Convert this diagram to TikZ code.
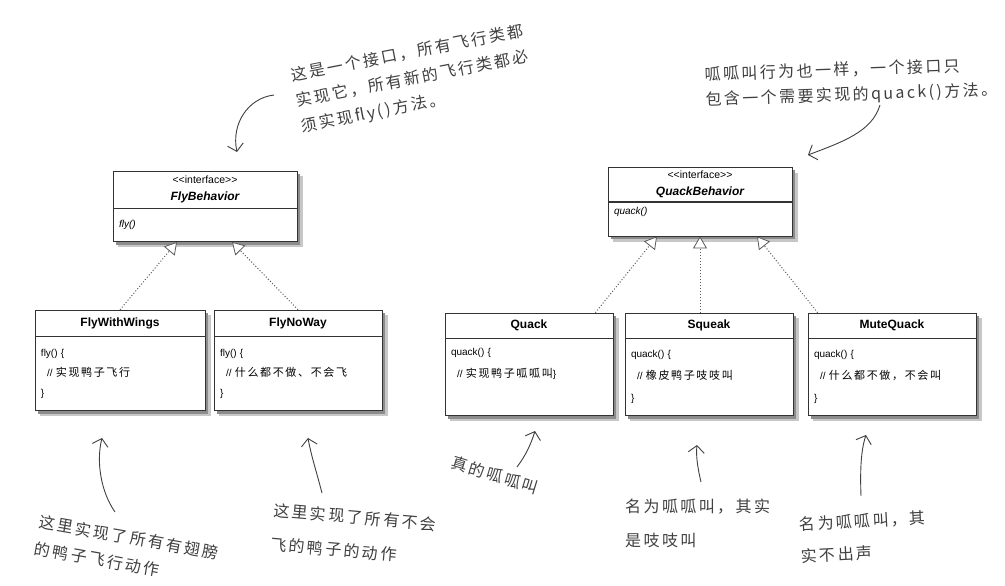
\documentclass[tikz,border=0pt]{standalone}
\usepackage{fontspec}
\usetikzlibrary{arrows.meta,backgrounds,positioning}
\newfontfamily\umlfont{Liberation Sans}
\newfontfamily\cjkbox[LetterSpace=15]{Noto Sans CJK SC}
\newfontfamily\handfont[LetterSpace=15]{Noto Sans CJK SC}
\newcommand\zhtext[1]{{\cjkbox\fontsize{11}{20}\selectfont #1}}

\tikzset{
  classname/.style={draw=black!80, fill=white, line width=0.6pt, inner sep=0pt,
    font=\umlfont\bfseries\fontsize{12}{14}\selectfont},
  iname/.style={classname, align=center, font=\umlfont\fontsize{10.5}{17}\selectfont},
  classbody/.style={draw=black!80, fill=white, line width=0.6pt, inner xsep=6pt, inner ysep=0pt,
    align=left, font=\umlfont\fontsize{10}{#1}\selectfont},
  classbody/.default=20,
  realize/.style={dotted, black!65, line width=1pt,
    -{Triangle[open, length=12pt, width=14pt, fill=white, line width=0.8pt]}},
  note/.style={font=\handfont\fontsize{16}{#1}\selectfont, text=black!75, align=left, inner sep=0pt},
  note/.default=26,
  pointer/.style={black!75, line width=0.9pt, -{Straight Barb[length=7pt, width=16pt]}}
}

\begin{document}
\begin{tikzpicture}[x=1pt, y=-1pt]
\useasboundingbox (0,0) rectangle (1005,586);

% interfaces
\node[iname, minimum width=184pt, minimum height=37pt] (fbname) at (205,189.5)
  {<\kern0pt<interface>\kern0pt>\\{\bfseries\itshape\fontsize{12}{14}\selectfont FlyBehavior}};
\node[classbody, minimum height=33pt, text width=172pt, below=0pt of fbname] (fb) {\textit{fly()}};

\node[iname, minimum width=184pt, minimum height=34pt] (qbname) at (700,184.5)
  {<\kern0pt<interface>\kern0pt>\\{\bfseries\itshape\fontsize{12}{14}\selectfont QuackBehavior}};
\node[classbody, minimum height=34pt, text width=172pt, text height=8pt, text depth=17pt,
  below=0pt of qbname] (qb) {\textit{quack()}};

% fly classes
\node[classname, minimum width=170pt, minimum height=26pt] (fwwname) at (120,323) {FlyWithWings};
\node[classbody, minimum height=74pt, text width=158pt, below=0pt of fwwname] (fww)
  {fly() \{\\ \hspace*{6pt}// \zhtext{实现鸭子飞行}\\ \}};
\node[classname, minimum width=168pt, minimum height=26pt] (fnwname) at (298,323) {FlyNoWay};
\node[classbody, minimum height=74pt, text width=156pt, below=0pt of fnwname] (fnw)
  {fly() \{\\ \hspace*{6pt}// \zhtext{什么都不做、不会飞}\\ \}};

% quack classes
\node[classname, minimum width=168pt, minimum height=25pt] (qname) at (529,325.5) {Quack};
\node[classbody=22, minimum height=77pt, text width=156pt, below=0pt of qname] (q)
  {quack() \{\\ \hspace*{6pt}// \zhtext{实现鸭子呱呱叫}\}\\ \strut};
\node[classname, minimum width=168pt, minimum height=25pt] (sqname) at (709,325.5) {Squeak};
\node[classbody=22, minimum height=77pt, text width=156pt, below=0pt of sqname] (sq)
  {quack() \{\\ \hspace*{6pt}// \zhtext{橡皮鸭子吱吱叫}\\ \}};
\node[classname, minimum width=168pt, minimum height=25pt] (mqname) at (892,325.5) {MuteQuack};
\node[classbody=22, minimum height=77pt, text width=156pt, below=0pt of mqname] (mq)
  {quack() \{\\ \hspace*{6pt}// \zhtext{什么都不做，不会叫}\\ \}};

% shadows
\begin{scope}[on background layer]
\fill[white] (0,0) rectangle (1005,586);
\foreach \nm/\bd in {fbname/fb, qbname/qb, fwwname/fww, fnwname/fnw, qname/q, sqname/sq, mqname/mq} {
  \fill[black!22] ([shift={(5.5pt,-5.5pt)}]\bd.south west) rectangle ([shift={(5.5pt,-5.5pt)}]\nm.north east);
  \fill[black!45] ([shift={(3pt,-3pt)}]\bd.south west) rectangle ([shift={(3pt,-3pt)}]\nm.north east);
}
\end{scope}

% realizations
\draw[realize] (fwwname.north) -- ([xshift=-28pt]fb.south);
\draw[realize] (fnwname.north) -- ([xshift=27pt]fb.south);
\draw[realize] ([xshift=-18pt]qname.north east) -- ([xshift=-43pt]qb.south);
\draw[realize] (sqname.north -| qb.south) -- (qb.south);
\draw[realize] ([xshift=10pt]mqname.north west) -- ([xshift=57pt]qb.south);

% notes
\node[note, rotate=11, anchor=west] (flynote) at (296,102)
  {这是一个接口，所有飞行类都\\实现它，所有新的飞行类都必\\须实现fly()方法。};
\node[note=25, rotate=2, anchor=west] (quacknote) at (705,88)
  {呱呱叫行为也一样，一个接口只\\包含一个需要实现的quack()方法。};
\node[note=27, rotate=-10, anchor=west] (wingsnote) at (37,535) {这里实现了所有有翅膀\\的鸭子飞行动作};
\node[note=34, rotate=-5, anchor=west] (noflynote) at (272,527) {这里实现了所有不会\\飞的鸭子的动作};
\node[note, rotate=-17, anchor=west] (realnote) at (452,462) {真的呱呱叫};
\node[note=34, anchor=west] (squeaknote) at (625,523) {名为呱呱叫，其实\\是吱吱叫};
\node[note=32, rotate=3, anchor=west] (mutenote) at (800,540) {名为呱呱叫，其\\实不出声};

% pointers
\coordinate (flyfrom) at (274,95);   \coordinate (flyto) at (237,152);
\coordinate (quackfrom) at (880,105); \coordinate (quackto) at (808,155);
\coordinate (wingsfrom) at (115,512); \coordinate (wingsto) at (102,438);
\coordinate (noflyfrom) at (322,493); \coordinate (noflyto) at (308,438);
\coordinate (realfrom) at (517,467);  \coordinate (realto) at (535,431);
\coordinate (squeakfrom) at (701,482); \coordinate (squeakto) at (697,445);
\coordinate (mutefrom) at (861,496);  \coordinate (muteto) at (866,435);
\draw[pointer] (flyfrom) .. controls (248,98) and (231,124) .. (flyto);
\draw[pointer] (quackfrom) .. controls (872,132) and (842,142) .. (quackto);
\draw[pointer] (wingsfrom) .. controls (101,492) and (96,462) .. (wingsto);
\draw[pointer] (noflyfrom) .. controls (316,470) and (311,455) .. (noflyto);
\draw[pointer] (realfrom) .. controls (526,455) and (531,444) .. (realto);
\draw[pointer] (squeakfrom) .. controls (697,465) and (696,455) .. (squeakto);
\draw[pointer] (mutefrom) .. controls (860,470) and (861,450) .. (muteto);
\end{tikzpicture}
\end{document}
